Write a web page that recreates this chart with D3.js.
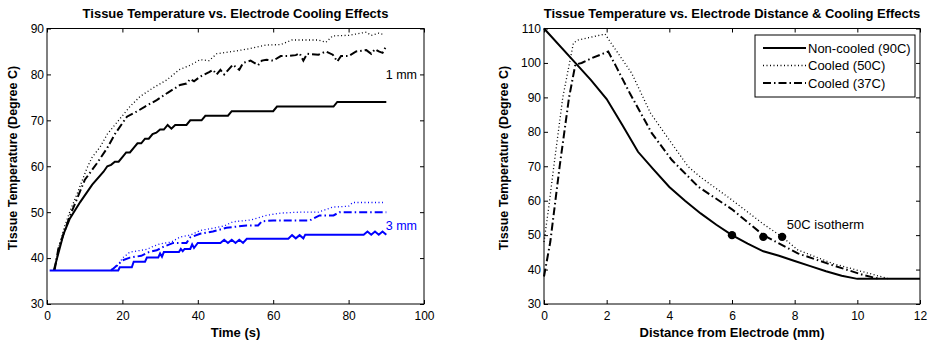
<!DOCTYPE html>
<html>
<head>
<meta charset="utf-8">
<script src="https://cdn.jsdelivr.net/npm/d3@7"></script>
<style>
  body { margin: 0; background: #fff; }
  svg { font-family: "Liberation Sans", Arial, sans-serif; }
  .tick text { font-size: 12px; fill: #000; }
  .tick line, .domain { stroke: #000; }
</style>
</head>
<body>
<svg id="chart" width="931" height="341"></svg>
<script>
// left panel: temperature vs time, [time (s), temp (C)]
const time1mmNonCooled = [[1.8,37.3],[3,41],[4.4,45.3],[6,48.5],[8.8,52.2],[12,56],[15,58.8],[16,60],[17,60.3],[18,61],[19,61],[20,62],[21,63],[22,63],[23,64],[24,65],[25,65],[26,66],[27,66],[28,67],[29,67.3],[30,68],[31,68],[32,69],[33,68.2],[34,69],[37,69],[38,70],[41,70],[42,71],[48,71],[49,72],[60,72],[61,73],[76,73],[77,74],[90,74]];
const time1mmCooled50 = [[2,37.3],[3,42],[4.5,46.5],[6,50],[8,54],[10.6,59.6],[12,62],[14.1,64.2],[16,67],[17.6,68.6],[20,71],[22,73],[24.7,75.2],[28,77],[31.8,78.8],[35,81],[38,82],[40.6,83.2],[43,83],[45,84.5],[49.3,85],[53,85.5],[58.2,86.4],[62,86.5],[65,87.5],[72,87.5],[74,87],[75.8,88.4],[80,88.5],[84.7,89.2],[86,88.5],[88,89],[89.5,88.6]];
const time1mmCooled37 = [[2,37.3],[3,42],[4.5,45.5],[6,49],[8,53],[10,57],[13.2,60.6],[16,64],[18,67],[21.2,70.8],[24,72],[26,73],[29.1,74.4],[32,76],[35.3,77.7],[37,78],[38,79],[39,78.5],[40.6,79.5],[43,80.5],[44,81],[45,80],[46,81],[47,80],[49.3,82.1],[51,81],[52,82.5],[54,83],[56,82],[57,83],[58.2,83.2],[60,83],[62,84],[64,84],[66,84.2],[67,84.6],[68,83],[69,84.5],[72,84.3],[74,85],[75.8,84.3],[77,82.8],[78,84],[80,84],[82,85],[84.7,85.3],[86,84.5],[87,85.5],[88,85],[89,84.7],[90,86.2]];
const time3mmNonCooled = [[0.7,37.3],[18.9,37.3],[19.3,38],[22.5,38],[23,39.2],[26,39.2],[26.5,40.1],[29.5,40.1],[30,41],[30.5,40.3],[31,41.3],[35,41.3],[35.5,42],[36,41.5],[36.5,42],[38,42],[38.5,43],[39,42.2],[40,43.3],[46,43.3],[47,44],[48,43.3],[49,44],[50,43.3],[51,44],[52,43.3],[53,44.2],[64,44.2],[65,45],[66,44.3],[67,45],[68,44.3],[68.5,45.1],[84,45.1],[85,45.8],[86,45.1],[87,45.8],[88,45.1],[89,45.8],[90,45.1]];
const time3mmCooled50 = [[17,37.5],[18,38],[19,38.5],[20,40],[22,41.3],[26.5,41.9],[28,42.5],[30,43.1],[33,43.5],[35.3,44.6],[38,45],[40.6,46],[44,46.5],[47,47],[49.3,47.9],[54,48.3],[58.2,49.3],[62,49.8],[67,50],[72,50],[75.8,51.1],[80,51.3],[81.1,52.1],[89.1,52.1]];
const time3mmCooled37 = [[17,37.3],[18,38],[20,39.5],[22,40.1],[25,40.5],[27,41.3],[29.1,41.7],[31,42.5],[33.5,43.3],[37,43.3],[38,44.5],[40.6,45.3],[44,45.8],[47.6,46.6],[52.9,47.1],[56,47.1],[57,48],[60,48.2],[69.7,48.2],[72.3,49.3],[76,49.3],[77.6,50],[90,50]];

// right panel: temperature vs distance, [distance (mm), temp (C)]
const distNonCooled = [[0,110],[1,100],[1.5,95],[2,89.5],[2.5,82],[3,74.2],[3.5,69],[4,64],[4.5,60],[5,56.3],[5.5,53],[6,50],[6.5,47.5],[7,45.3],[7.5,44],[8,42.5],[8.5,41],[9,39.5],[9.5,38.2],[10,37.3],[12,37.3]];
const distCooled50 = [[0,48],[0.15,58],[0.3,69],[0.6,90],[0.94,105.8],[1.1,106.7],[1.5,107.5],[1.95,108.4],[2.1,106.3],[2.5,101],[2.8,97],[3.4,85.4],[4.07,76.7],[4.6,69.9],[5,66.8],[6,60.2],[7,53.2],[7.6,49.5],[8.1,45.7],[9.2,41.8],[10.2,39.3],[10.9,37.6],[11,37.3]];
const distCooled37 = [[0,38],[0.2,48],[0.5,70],[0.8,90],[1,99.5],[1.2,100],[1.5,101.3],[2.05,103.3],[2.3,99],[2.74,91.2],[3.44,79.6],[4.08,71.8],[4.93,64],[6,57.5],[7,50],[8.1,44.7],[9.2,41.3],[10.2,38.4],[10.7,37.3]];
const isothermPoints = [[6,50],[7,49.5],[7.6,49.5]];

const legendLabels = ["Non-cooled (90C)", "Cooled (50C)", "Cooled (37C)"];

const styles = {
  solid: { dash: null, width: 2 },
  dotted: { dash: "1,2.5", width: 1.3 },
  dashdot: { dash: "8,3,1.5,3", width: 2 }
};

const svg = d3.select("#chart");

function drawPanel(opts) {
  let x = d3.scaleLinear().domain(opts.xDomain).range([opts.left, opts.right]);
  let y = d3.scaleLinear().domain(opts.yDomain).range([opts.bottom, opts.top]);
  let g = svg.append("g");

  g.append("g")
    .attr("transform", "translate(0," + opts.bottom + ")")
    .call(d3.axisBottom(x).tickValues(opts.xTicks).tickSize(-4).tickSizeOuter(0).tickPadding(7));
  g.append("g")
    .attr("transform", "translate(0," + opts.top + ")")
    .call(d3.axisTop(x).tickValues(opts.xTicks).tickSize(-4).tickSizeOuter(0).tickFormat(""));
  g.append("g")
    .attr("transform", "translate(" + opts.left + ",0)")
    .call(d3.axisLeft(y).tickValues(opts.yTicks).tickSize(-4).tickSizeOuter(0).tickPadding(3));
  g.append("g")
    .attr("transform", "translate(" + opts.right + ",0)")
    .call(d3.axisRight(y).tickValues(opts.yTicks).tickSize(-4).tickSizeOuter(0).tickFormat(""));
  g.selectAll(".domain").remove();

  g.append("rect")
    .attr("x", opts.left).attr("y", opts.top)
    .attr("width", opts.right - opts.left).attr("height", opts.bottom - opts.top)
    .attr("fill", "none").attr("stroke", "#000").attr("stroke-width", 1);

  let line = d3.line().x(d => x(d[0])).y(d => y(d[1]));
  opts.series.forEach(s => {
    let st = styles[s.style];
    g.append("path")
      .datum(s.data)
      .attr("d", line)
      .attr("fill", "none")
      .attr("stroke", s.color)
      .attr("stroke-width", st.width)
      .attr("stroke-dasharray", st.dash);
  });

  g.append("text")
    .attr("x", (opts.left + opts.right) / 2).attr("y", 18)
    .attr("text-anchor", "middle")
    .style("font-size", "13px").style("font-weight", "bold")
    .text(opts.title);
  g.append("text")
    .attr("x", (opts.left + opts.right) / 2).attr("y", 337)
    .attr("text-anchor", "middle")
    .style("font-size", "13px").style("font-weight", "bold")
    .text(opts.xLabel);
  g.append("text")
    .attr("transform", "translate(" + opts.yLabelX + ",158) rotate(-90)")
    .attr("text-anchor", "middle")
    .style("font-size", "12.5px").style("font-weight", "bold")
    .text("Tissue Temperature (Degree C)");

  return { g: g, x: x, y: y };
}

let left = drawPanel({
  left: 47, right: 424, top: 28.5, bottom: 304,
  xDomain: [0, 100], yDomain: [30, 90],
  xTicks: d3.range(0, 101, 20), yTicks: d3.range(30, 91, 10),
  title: "Tissue Temperature vs. Electrode Cooling Effects",
  xLabel: "Time (s)", yLabelX: 17,
  series: [
    { data: time1mmNonCooled, style: "solid", color: "#000" },
    { data: time1mmCooled50, style: "dotted", color: "#000" },
    { data: time1mmCooled37, style: "dashdot", color: "#000" },
    { data: time3mmNonCooled, style: "solid", color: "#0000ff" },
    { data: time3mmCooled50, style: "dotted", color: "#0000ff" },
    { data: time3mmCooled37, style: "dashdot", color: "#0000ff" }
  ]
});
left.g.append("text")
  .attr("x", 417).attr("y", left.y(80) + 4.5)
  .attr("text-anchor", "end").style("font-size", "12.5px")
  .text("1 mm");
left.g.append("text")
  .attr("x", 417).attr("y", left.y(47) + 4.5)
  .attr("text-anchor", "end").style("font-size", "12.5px").attr("fill", "#0000ff")
  .text("3 mm");

let right = drawPanel({
  left: 544, right: 920, top: 28.5, bottom: 304,
  xDomain: [0, 12], yDomain: [30, 110],
  xTicks: d3.range(0, 13, 2), yTicks: d3.range(30, 111, 10),
  title: "Tissue Temperature vs. Electrode Distance & Cooling Effects",
  xLabel: "Distance from Electrode (mm)", yLabelX: 508,
  series: [
    { data: distNonCooled, style: "solid", color: "#000" },
    { data: distCooled50, style: "dotted", color: "#000" },
    { data: distCooled37, style: "dashdot", color: "#000" }
  ]
});

right.g.selectAll("circle.iso")
  .data(isothermPoints)
  .enter().append("circle")
  .attr("class", "iso")
  .attr("cx", d => right.x(d[0]))
  .attr("cy", d => right.y(d[1]))
  .attr("r", 4.2)
  .attr("fill", "#000");
right.g.append("text")
  .attr("x", right.x(7.75)).attr("y", right.y(53.2) + 4.5)
  .style("font-size", "13px")
  .text("50C isotherm");

// legend
let legend = right.g.append("g").attr("transform", "translate(755,35)");
legend.append("rect")
  .attr("width", 160).attr("height", 62)
  .attr("fill", "#fff").attr("stroke", "#000");
["solid", "dotted", "dashdot"].forEach((k, i) => {
  let st = styles[k];
  let yy = 13 + i * 17.5;
  legend.append("line")
    .attr("x1", 8).attr("x2", 51).attr("y1", yy).attr("y2", yy)
    .attr("stroke", "#000").attr("stroke-width", st.width)
    .attr("stroke-dasharray", st.dash);
  legend.append("text")
    .attr("x", 53).attr("y", yy + 4.5)
    .style("font-size", "13px")
    .text(legendLabels[i]);
});
</script>
</body>
</html>
